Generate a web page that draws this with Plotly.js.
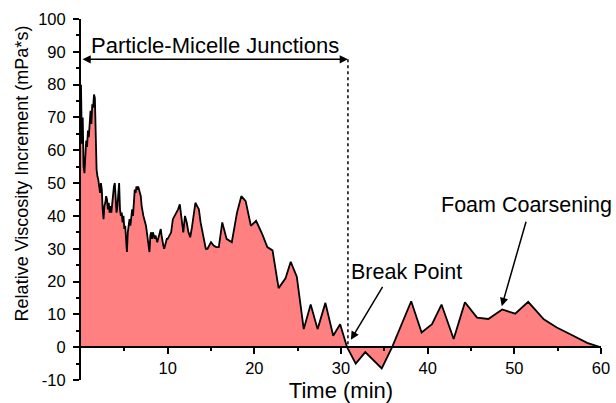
<!DOCTYPE html>
<html>
<head>
<meta charset="utf-8">
<script src="https://cdn.plot.ly/plotly-3.0.1.min.js"></script>
<style>
  html, body { margin: 0; padding: 0; background: #fff; }
  #chart { width: 616px; height: 403px; }
</style>
</head>
<body>
<div id="chart"></div>
<script>
// Time of measurement (min)
var timeMin = [
  0.0, 0.1, 0.2, 0.3, 0.4, 0.5, 0.6, 0.7, 0.8, 0.9,
  1.0, 1.1, 1.2, 1.3, 1.4, 1.5, 1.6, 1.7, 1.8, 1.9,
  2.0, 2.1, 2.2, 2.3, 2.4, 2.5, 2.6, 2.7, 2.8, 2.9,
  3.0, 3.1, 3.2, 3.3, 3.4, 3.5, 3.6, 3.7, 3.8, 3.9,
  4.0, 4.1, 4.2, 4.3, 4.4, 4.5, 4.6, 4.7, 4.8, 4.9,
  5.0, 5.1, 5.2, 5.3, 5.4, 5.5, 5.6, 5.7, 5.8, 5.9,
  6.0, 6.1, 6.2, 6.3, 6.4, 6.5, 6.6, 6.7, 6.8, 6.9,
  7.0, 7.1, 7.2, 7.3, 7.4, 7.5, 7.6, 7.7, 7.8, 7.9,
  8.0, 8.1, 8.2, 8.3, 8.4, 8.5, 8.6, 8.7, 8.8, 8.9,
  9.0, 9.1, 9.2, 9.3, 9.4, 9.5, 9.6, 9.7, 9.8, 9.9,
  10.0, 10.2, 10.4, 10.6, 10.8, 11.0, 11.2, 11.4, 11.6, 11.8,
  12.0, 12.2, 12.4, 12.6, 12.8, 13.0, 13.2, 13.4, 13.6, 13.8,
  14.0, 14.2, 14.4, 14.6, 14.8, 15.0, 15.3, 15.6, 15.9, 16.3,
  16.8, 17.4, 18.0, 18.5, 19.0, 19.6, 20.2, 20.9, 21.5, 22.1,
  22.8, 23.6, 24.2, 24.9, 25.7, 26.5, 27.3, 28.2, 29.1, 29.9,
  30.7, 31.7, 32.8, 34.7, 35.9, 38.1, 39.3, 40.5, 41.6, 43.0,
  44.3, 45.7, 47.0, 48.6, 50.1, 51.6, 53.4, 54.9, 56.4, 58.4,
  59.9
];

// Relative viscosity increment (mPa*s)
var viscosity = [
  80, 62, 70, 55, 53, 58, 63, 61, 66, 64,
  70, 72, 68, 74, 73, 77, 76, 62, 54, 52,
  51, 49, 47, 50, 48, 42, 39, 43, 44, 46,
  45, 42, 44, 41, 43, 41, 44, 47, 49, 50,
  44, 41, 43, 49, 50, 42, 40, 41, 38, 40,
  36, 37, 33, 29, 35, 38, 39, 37, 40, 42,
  40, 45, 48, 47, 49, 48, 49, 48, 47, 46,
  43, 41, 40, 39, 38, 37, 35, 33, 30, 29,
  34, 35, 33, 35, 34, 33, 34, 33, 32, 33,
  34, 35, 36, 34, 32, 31, 30, 31, 32, 33,
  33, 34, 35, 39, 40, 41, 42, 43.5, 40, 35,
  40, 38, 35, 33.5, 36.5, 40, 44, 43, 42, 38,
  35, 32, 30, 30, 31, 32, 31, 30.5, 30.5, 38,
  33, 32, 41, 46, 44.5, 37, 38.5, 34.5, 30.5, 29.5,
  18, 21, 26, 21.5, 5.5, 13, 5.5, 13.5, 3.5, 7,
  0, -5, -1.5, -6.5, 0, 14, 4.5, 7, 13, 2.5,
  13.7, 9, 8.6, 11.5, 10.2, 13.8, 8.5, 6, 4, 1.3,
  0
];

// Axis tick labels
var xTickVals = [10, 20, 30, 40, 50, 60];
var xTickText = ['10', '20', '30', '40', '50', '60'];
var yTickVals = [-10, 0, 10, 20, 30, 40, 50, 60, 70, 80, 90, 100];
var yTickText = ['-10', '0', '10', '20', '30', '40', '50', '60', '70', '80', '90', '100'];

// End of the particle-micelle junction stage (min) and the height of its marker
var junctionEnd = 30.8;
var junctionLevel = 87.7;

var FONT = 'Liberation Sans, Arial, Helvetica, sans-serif';

var trace = {
  x: timeMin,
  y: viscosity,
  type: 'scatter',
  mode: 'lines',
  fill: 'tozeroy',
  fillcolor: 'rgb(255,128,128)',
  line: { color: '#000', width: 1.8 },
  hoverinfo: 'x+y'
};

var axisCommon = {
  showline: true,
  linecolor: '#000',
  linewidth: 2,
  ticks: 'outside',
  ticklen: 6,
  tickwidth: 2,
  tickcolor: '#000',
  showgrid: false,
  zeroline: false,
  tickfont: { family: FONT, size: 16.5, color: '#000' }
};

var layout = {
  width: 616,
  height: 403,
  margin: { l: 81, r: 15, t: 19, b: 23 },
  paper_bgcolor: '#fff',
  plot_bgcolor: '#fff',
  showlegend: false,
  font: { family: FONT, color: '#000' },
  xaxis: Object.assign({}, axisCommon, {
    range: [0, 60],
    anchor: 'free',
    position: 10 / 110,
    tickmode: 'array',
    tickvals: xTickVals,
    ticktext: xTickText,
    minor: { tickmode: 'linear', tick0: 5, dtick: 10, ticks: 'outside', ticklen: 3, tickwidth: 2, tickcolor: '#000' },
    automargin: false,
    title: { text: 'Time (min)', font: { family: FONT, size: 22, color: '#000' }, standoff: 7 }
  }),
  yaxis: Object.assign({}, axisCommon, {
    range: [-10, 100],
    tickmode: 'array',
    tickvals: yTickVals,
    ticktext: yTickText,
    ticklabelstandoff: 4,
    minor: { tickmode: 'linear', tick0: -5, dtick: 10, ticks: 'outside', ticklen: 3, tickwidth: 2, tickcolor: '#000' },
    automargin: false
  }),
  shapes: [
    {
      type: 'line', xref: 'x', yref: 'y',
      x0: junctionEnd, x1: junctionEnd, y0: junctionLevel, y1: 0,
      line: { color: '#000', width: 1.5, dash: 'dot' }
    }
  ],
  annotations: [
    // y-axis title
    {
      xref: 'paper', yref: 'paper', x: -0.113, y: 0.573,
      xanchor: 'center', yanchor: 'middle', textangle: -90,
      text: 'Relative Viscosity Increment (mPa*s)',
      showarrow: false, font: { family: FONT, size: 18, color: '#000' }
    },
    {
      xref: 'x', yref: 'y', x: 15.5, y: 92, text: 'Particle-Micelle Junctions',
      showarrow: false, font: { family: FONT, size: 22, color: '#000' }
    },
    {
      xref: 'x', yref: 'y', x: junctionEnd, y: junctionLevel,
      axref: 'x', ayref: 'y', ax: 0, ay: junctionLevel,
      text: '', showarrow: true, arrowside: 'end+start',
      arrowhead: 2, arrowsize: 1.1, arrowwidth: 1.5, arrowcolor: '#000'
    },
    {
      xref: 'x', yref: 'y', x: 37.6, y: 23, text: 'Break Point',
      showarrow: false, font: { family: FONT, size: 21.5, color: '#000' }
    },
    {
      xref: 'x', yref: 'y', x: 31.14, y: 2.3,
      axref: 'x', ayref: 'y', ax: 34.9, ay: 18.8,
      text: '', showarrow: true, arrowhead: 2, arrowsize: 1.1, arrowwidth: 1.5, arrowcolor: '#000'
    },
    {
      xref: 'x', yref: 'y', x: 51.35, y: 43.2, text: 'Foam Coarsening',
      showarrow: false, font: { family: FONT, size: 21.5, color: '#000' }
    },
    {
      xref: 'x', yref: 'y', x: 48.55, y: 12.5,
      axref: 'x', ayref: 'y', ax: 51.4, ay: 38.7,
      text: '', showarrow: true, arrowhead: 2, arrowsize: 1.1, arrowwidth: 1.5, arrowcolor: '#000'
    }
  ]
};

Plotly.newPlot('chart', [trace], layout, { displayModeBar: false, staticPlot: true });
</script>
</body>
</html>
